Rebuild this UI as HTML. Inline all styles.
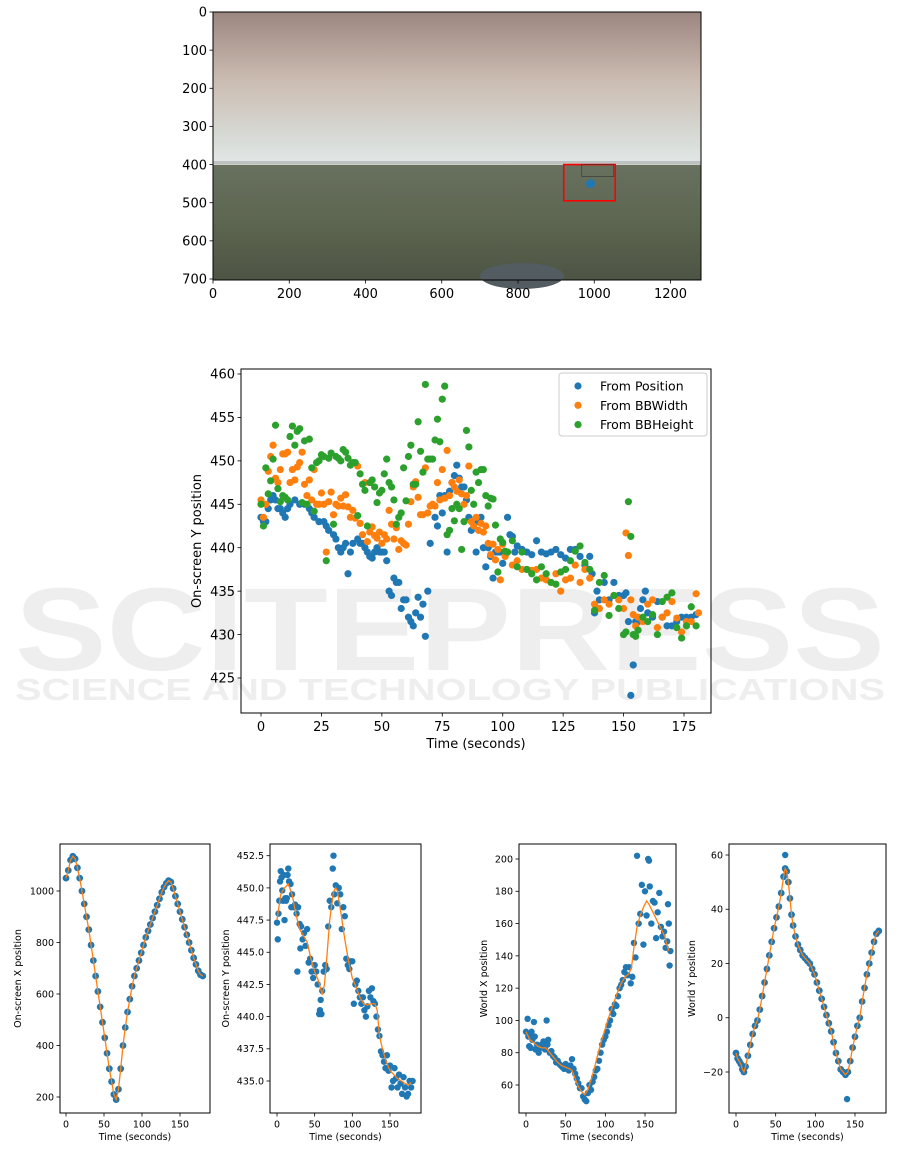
<!DOCTYPE html>
<html><head><meta charset="utf-8"><style>
html,body{margin:0;padding:0;background:#fff;}
svg{display:block;font-family:"DejaVu Sans","Liberation Sans",sans-serif;}
</style></head><body>
<svg id="fig" width="901" height="1151" viewBox="0 0 901 1151" xmlns="http://www.w3.org/2000/svg">
<defs>
<linearGradient id="sky" x1="0" y1="0" x2="0" y2="1">
<stop offset="0" stop-color="#9c8680"/><stop offset="0.45" stop-color="#cbbcb1"/><stop offset="0.85" stop-color="#d8dcd8"/><stop offset="1" stop-color="#e2e8e8"/></linearGradient>
<linearGradient id="ground" x1="0" y1="0" x2="0" y2="1">
<stop offset="0" stop-color="#68715f"/><stop offset="0.5" stop-color="#5d6650"/><stop offset="1" stop-color="#4d5444"/></linearGradient>
</defs>
<g fill="#e4e4e4" opacity="0.6">
<text x="15" y="670" font-size="118" font-weight="bold" textLength="870" lengthAdjust="spacingAndGlyphs" font-family="Liberation Sans, sans-serif">SCITEPRESS</text>
<text x="15" y="700" font-size="31" font-weight="bold" textLength="870" lengthAdjust="spacingAndGlyphs" font-family="Liberation Sans, sans-serif">SCIENCE AND TECHNOLOGY PUBLICATIONS</text>
</g>
<g>
<rect x="213" y="12" width="488" height="152" fill="url(#sky)"/>
<rect x="213" y="161" width="488" height="5" fill="#9a9e9a" opacity="0.5"/>
<rect x="213" y="165" width="488" height="115" fill="url(#ground)"/>
<ellipse cx="522" cy="276" rx="42" ry="13" fill="#535c60"/>
</g>
<g id="g-top"></g>
<g id="g-mid"></g>
<g id="g-b1"></g><g id="g-b2"></g><g id="g-b3"></g><g id="g-b4"></g>
</svg>
<script>
// ===== Middle chart data =====
const posT=[0,1,2,3,4,5,6,7,8,9,10,11,12,14,16,18,20,21,22,24,26,27,28,30,31,32,33,34,35,36,37,38,40,41,42,43,44,45,46,47,48,49,50,51,52,53,54,55,56,57,58,59,60,61,62,63,64,65,66,67,68,69,70,72,73,74,75,76,77,78,79,80,81,82,83,84,85,86,87,88,89,90,91,92,93,94,95,96,97,98,99,100,101,102,103,104,105,106,108,110,112,114,116,118,120,122,124,126,128,130,132,134,136,137,138,139,140,142,144,146,148,150,151,152,153,154,155,156,157,158,159,160,162,164,166,168,170,172,174,176,178,180];
const posY=[443.5,443,443,444.5,445.5,446,445.5,444.5,444.5,444,443.5,444.5,445,445.5,445,445,444.5,444,443.5,443,443,442.5,442,441.5,441,440,439.5,440,440.5,437,439.5,440.5,441,440.5,440.5,440,439.5,439,438.8,439.5,440,439.5,439.5,439.5,438.5,435,434.5,436.5,436,436,433,434,434,432,431.5,431,432.5,434.3,432,433.5,429.8,435,440.5,443.5,442.5,446,444,446,439.5,446.5,447.5,448.3,449.5,448,447,447,445.5,443.5,442,443,439.5,443,443.5,440,437.8,440,439,436.5,439.5,439.5,439.5,438.2,439.5,443.5,441.5,441.3,439.5,440.2,439.8,439.5,439.2,440.8,439.5,439.3,439.5,439.8,439.2,438.8,439.8,439.8,439,438,439,437,432.5,435,434,436,434,436,434.5,434.5,434.8,431.5,423,426.5,431.5,431.5,433,434,435,432.5,432,433.8,432,431,431,431.5,432,432,432,432.3];
const widT=[0,1,2,3,4,5,6,7,8,9,10,11,12,13,14,15,16,17,18,19,20,21,22,23,24,25,26,27,28,29,30,31,32,33,34,35,36,37,38,39,40,41,42,43,44,45,46,47,48,49,50,51,52,53,54,55,56,57,58,59,60,61,62,63,64,65,66,67,68,69,70,71,72,73,74,75,76,77,78,79,80,81,82,83,84,85,86,87,88,89,90,91,92,93,94,95,96,97,98,99,100,101,102,104,106,108,110,112,114,116,118,120,122,124,126,128,130,132,134,136,138,140,142,144,146,148,150,151,152,153,154,155,156,158,160,162,164,166,168,170,172,174,176,178,180,181];
const widY=[445.5,443.5,445,448.8,450.5,451.8,448,447.5,449,450.8,450.8,451,447.5,449,447.8,449.3,449.8,451,447.3,446,447.8,445.5,449,445,445,446.3,445,439.5,445.3,446.4,443.8,445,444.8,445.7,444.8,446.1,444.7,443.5,444.3,443.4,449.4,442.8,441.5,447.5,440.7,441.8,442.4,441.4,441.1,441.8,440.5,441.5,441,444.3,442.7,441,442.3,439.8,440.8,440.5,440.3,442.7,445.3,447,447.6,445.8,443.8,443.8,449.2,444,444.8,445,444.8,447.5,445.5,449,445.7,451.2,446,447.5,447,446.5,447.8,446.2,445,446,449.4,443,442.5,443.5,442,442.8,441.8,442.5,440.5,439.2,440.4,438.6,439.8,436.3,440.4,439,439.5,438,438.5,437.5,437.5,437.4,437.5,436.5,436.3,436,437,435,436.3,436.5,438,436,437.5,436.5,433.5,433,434,433.5,434.5,434,433,441.7,439.1,434,432.3,431,432,431.5,433.5,434,430.8,432,432.5,433.8,431.9,430.3,431.5,431.5,434.7,432.5];
const hgtT=[0,1,2,3,4,5,6,7,8,9,10,11,12,13,14,15,16,17,18,19,20,21,22,23,24,25,26,27,28,29,30,31,32,33,34,35,36,37,38,39,40,41,42,43,44,45,46,47,48,49,50,51,52,53,54,55,56,57,58,59,60,61,62,63,64,65,66,67,68,69,70,71,72,73,74,75,76,77,78,79,80,81,82,83,84,85,86,87,88,89,90,91,92,93,94,95,96,97,98,99,100,101,102,104,106,108,110,112,114,116,118,120,122,124,126,128,130,132,134,136,138,140,142,144,146,148,150,151,152,153,154,155,156,158,160,162,164,166,168,170,172,174,176,178,180];
const hgtY=[445,442.5,449.2,446.2,447.7,450.2,454.1,446.8,445.3,446,445.8,445.5,452.8,454,451.8,453.4,453.7,445.2,452.3,445,452.5,449.2,444.2,449.8,450,450.7,450.5,438.5,450.3,450.9,442.7,450.5,450.3,450,451.3,451,450.3,449.5,449.8,449.8,443.7,448.5,447.3,446.6,442.5,447.5,447.8,447,445.2,446.3,446.6,448.5,450.2,447.5,447,445.5,442.7,443.5,444,449.2,445.4,450.5,451.8,447.3,447.3,454.5,451.1,448.7,458.8,450.2,450.2,450.2,452.4,454.8,452.2,457.1,458.6,441.5,442,444.5,443.1,445,444.5,439.8,443,453.5,451.6,446.6,445,448.7,447.5,449,449,446,444.8,445.7,445.6,442.6,437.2,441,440.6,439.6,439.5,440.8,437.8,439.5,437.5,437,436.3,437.8,437,436,435.8,437.2,437.5,438.5,439.6,440.2,438.3,437.5,432.8,436,436.8,432.2,434.5,433,430,430.3,445.3,441.3,430,429.8,430.5,432,431.5,432.3,430,433.8,434.3,434.8,430.8,429.6,431,433.2,431];
const midXTicks=[0,25,50,75,100,125,150,175];
const midYTicks=[425,430,435,440,445,450,455,460];
const midLegend=["From Position","From BBWidth","From BBHeight"];
const midColors=["#1f77b4","#ff7f0e","#2ca02c"];

// ===== Top image axis ticks =====
const topXTicks=[0,200,400,600,800,1000,1200];
const topYTicks=[0,100,200,300,400,500,600,700];
const bbox=[920,400,1055,495];
const detPoint=[990,450];

// ===== Bottom chart 1: on-screen X =====
const b1T=[0,3,6,9,12,15,18,21,24,27,30,33,36,39,42,45,48,51,54,57,60,63,66,69,72,75,78,81,84,87,90,93,96,99,102,105,108,111,114,117,120,123,126,129,132,135,138,141,144,147,150,153,156,159,162,165,168,171,174,177,180];
const b1V=[1050,1080,1120,1135,1125,1090,1050,1000,950,900,850,790,730,670,610,550,490,430,370,310,260,210,190,230,310,400,470,530,580,630,670,700,730,760,790,820,845,870,895,920,945,970,995,1015,1030,1040,1035,1010,980,950,920,890,860,830,800,770,740,715,690,675,670];
const b1YTicks=[200,400,600,800,1000];
// ===== Bottom chart 2 =====
const b2T=[0,1,2,3,4,5,6,7,8,9,10,11,12,13,14,15,16,18,19,20,22,24,26,27,28,30,31,32,34,36,38,40,42,44,46,48,50,52,54,56,57,58,59,60,62,64,66,68,70,72,74,75,76,78,80,82,84,86,88,90,92,94,96,98,100,102,104,106,108,110,112,114,116,118,120,122,124,126,128,130,132,134,136,138,140,142,144,146,148,150,152,154,156,158,160,162,164,166,168,170,172,174,176,178,180];
const b2V=[447.3,446,448,449,450.5,451.3,450.8,449.8,449,451,447.5,449.2,449,449.2,451,451.5,450.5,450.3,448.5,449.5,448.5,448.7,448,443.5,448.5,447.2,445.3,447,446,446.5,445.5,446.8,444.2,444.5,443.5,443,444,443.5,442.5,440.2,440.5,441.3,440.2,442,443.5,444,443.7,447,449,448.5,451.5,452.5,449.5,450.2,448.8,450,449.5,446.8,448.5,447.8,444.5,444,443.7,444.3,444.3,441,442.5,442.8,442,441.5,441,441.5,440.5,440,440.8,442,441.5,442.2,441.2,441,440,439,438.5,437.3,437,436.5,436,437,435.8,436.2,434.5,435,436,435.2,434.5,435.5,434.8,434,435.3,434.5,433.8,434,435,434.5,435];
const b2FitT=[0,5,10,15,20,25,30,35,40,45,50,55,60,63,66,70,75,78,80,85,90,95,100,105,110,115,120,125,130,133,136,140,145,150,155,160,165,170,175,178];
const b2FitV=[447.5,449.5,450,450.3,449.5,448,446.8,446.3,445.8,444.5,443.5,442.8,441.7,442.5,444.5,447.5,449.7,450,449.8,448,446,444.3,443,442.3,441.5,441,440.9,441,441,440.5,438.5,437.5,436.5,435.8,435.5,435.2,435,434.8,434.7,434.9];
const b2YTicks=[435,437.5,440,442.5,445,447.5,450,452.5];
const b2YLabels=["435.0","437.5","440.0","442.5","445.0","447.5","450.0","452.5"];
// ===== Bottom chart 3 =====
const b3T=[0,2,3,4,5,6,7,8,10,11,12,14,16,18,20,22,24,26,27,28,30,32,34,36,38,40,42,44,46,48,50,52,54,56,58,60,62,64,66,68,70,72,74,76,78,80,82,84,86,88,90,92,94,96,98,100,102,104,106,108,110,112,114,116,118,120,122,124,126,128,130,132,134,136,138,140,142,144,146,148,150,152,154,155,156,158,160,162,164,166,168,170,172,174,176,178,179,180,181,182];
const b3V=[93,101,90,84,91,83,93,88,99,90,82,85,80,83,85,87,82,100,85,88,80,81,78,77,74,75,73,72,71,70,73,70,69,72,76,70,67,64,61,58,58,53,51,50,55,60,57,62,65,69,70,75,80,85,88,90,93,97,100,107,104,110,109,115,120,122,125,130,133,128,133,123,127,148,139,202,160,166,184,147,180,165,200,199,183,160,174,173,151,167,179,158,152,155,145,149,172,160,134,143];
const b3FitT=[0,5,10,15,20,25,30,35,40,45,50,55,58,62,66,70,74,78,82,86,90,95,100,105,110,115,120,125,130,133,136,140,144,148,152,155,160,165,170,175,178,180];
const b3FitV=[93,88,86,84,83,83,80,77,74,72,71,70,69,64,59,56,54,57,63,70,78,87,95,103,110,117,123,127,129,133,145,158,165,170,174,172,167,162,157,152,146,143];
const b3YTicks=[60,80,100,120,140,160,180,200];
// ===== Bottom chart 4 =====
const b4T=[0,2,4,6,8,10,12,15,18,21,24,27,30,33,36,39,42,45,48,51,54,57,60,62,64,66,68,70,72,75,78,81,84,87,90,93,96,99,102,105,108,111,114,117,120,123,126,129,132,135,138,141,144,147,150,153,156,159,162,165,168,171,174,177,180];
const b4V=[-13,-15,-16,-17,-19,-20,-18,-14,-10,-6,-3,-1,3,8,13,18,23,28,33,37,41,46,52,55,54,50,44,38,34,30,27,25,23,22,21,20,18,16,13,10,7,4,1,-2,-5,-9,-13,-16,-19,-20,-21,-20,-16,-11,-7,-3,0,6,11,16,20,24,28,31,32];
const b4OutT=[62,140];
const b4OutV=[60,-30];
const b4YTicks=[-20,0,20,40,60];
const b4YLabels=["\u221220","0","20","40","60"];
const bXTicks=[0,50,100,150];

const NS="http://www.w3.org/2000/svg";
function mk(parent,tag,attrs){const e=document.createElementNS(NS,tag);for(const k in attrs)e.setAttribute(k,attrs[k]);parent.appendChild(e);return e;}
function lin(d0,d1,p0,p1){return v=>p0+(v-d0)*(p1-p0)/(d1-d0);}

function axes(g,f,xs,ys,xt,yt,xl,yl,fs,yLabels){
  const fr=mk(g,'rect',{x:f.x0,y:f.y0,width:f.x1-f.x0,height:f.y1-f.y0,fill:'none',stroke:'#000','stroke-width':1});
  
  
  xt.forEach(v=>{const x=xs(v);
    mk(g,'line',{x1:x,x2:x,y1:f.y1,y2:f.y1+3.5,stroke:'#000','stroke-width':0.8});
    const t=mk(g,'text',{x:x,y:f.y1+5+fs,'font-size':fs,'text-anchor':'middle'});t.textContent=v;
    
    });
  yt.forEach((v,i)=>{const y=ys(v);
    mk(g,'line',{x1:f.x0-3.5,x2:f.x0,y1:y,y2:y,stroke:'#000','stroke-width':0.8});
    const t=mk(g,'text',{x:f.x0-6,y:y+fs*0.36,'font-size':fs,'text-anchor':'end'});t.textContent=yLabels?yLabels[i]:v;
    
    });
  if(xl){const t=mk(g,'text',{x:(f.x0+f.x1)/2,y:xl.y,'font-size':xl.fs,'text-anchor':'middle'});t.textContent=xl.t;
    
    }
  if(yl){const t=mk(g,'text',{x:yl.x,y:(f.y0+f.y1)/2,'font-size':yl.fs,'text-anchor':'middle',transform:`rotate(-90 ${yl.x} ${(f.y0+f.y1)/2})`});t.textContent=yl.t;
    
    }
}
function dots(g,T,V,xs,ys,r,c,name){T.forEach((t,i)=>{const d=mk(g,'circle',{cx:xs(t),cy:ys(V[i]),r:r,fill:c});
  
  });}
function line(g,T,V,xs,ys,c,name){const p=mk(g,'polyline',{points:T.map((t,i)=>xs(t)+','+ys(V[i])).join(' '),fill:'none',stroke:c,'stroke-width':1.3});
  
  }

(function(){const g=document.getElementById('g-top');
 const f={x0:213,x1:701,y0:12,y1:280};
 const xs=lin(0,1280,213,701), ys=lin(0,700,12,279);
 const r=mk(g,'rect',{x:xs(bbox[0]),y:ys(bbox[1]),width:xs(bbox[2])-xs(bbox[0]),height:ys(bbox[3])-ys(bbox[1]),fill:'none',stroke:'#ff0000','stroke-width':1.6});
 
 
 mk(g,'rect',{x:xs(bbox[0])+18,y:ys(bbox[1]),width:32,height:12,fill:'none',stroke:'#333','stroke-width':0.6});
 const c=mk(g,'circle',{cx:xs(detPoint[0]),cy:ys(detPoint[1]),r:4.5,fill:'#1f77b4'});
 
 
 axes(g,f,xs,ys,topXTicks,topYTicks,null,null,13);
})();

(function(){const g=document.getElementById('g-mid');
 const f={x0:241,x1:711,y0:369,y1:713};
 const xs=lin(0,175,261,684), ys=lin(460,425,374,678);
 dots(g,posT,posY,xs,ys,3.6,midColors[0],'point-from-position');
 dots(g,widT,widY,xs,ys,3.6,midColors[1],'point-from-bbwidth');
 dots(g,hgtT,hgtY,xs,ys,3.6,midColors[2],'point-from-bbheight');
 axes(g,f,xs,ys,midXTicks,midYTicks,{t:'Time (seconds)',y:748,fs:13},{t:'On-screen Y position',x:201,fs:13},13);
 const lg=mk(g,'g',{});
 mk(lg,'rect',{x:559,y:373,width:148,height:63,rx:3,fill:'#fff','fill-opacity':0.8,stroke:'#ccc'});
 midLegend.forEach((s,i)=>{const y=386+i*19.3;
   const c=mk(lg,'circle',{cx:578,cy:y,r:3.6,fill:midColors[i]});
   
   
   const t=mk(lg,'text',{x:600,y:y+4.5,'font-size':12.5});t.textContent=s;
   
   });
})();

const BY0=844,BY1=1113;
(function(){const g=document.getElementById('g-b1');
 const f={x0:60,x1:210,y0:BY0,y1:BY1};
 const xs=lin(0,150,66,180), ys=lin(1000,200,891,1097);
 dots(g,b1T,b1V,xs,ys,3.4,'#1f77b4','point-screen-x');
 line(g,b1T,b1V,xs,ys,'#ff7f0e','fit-screen-x');
 axes(g,f,xs,ys,bXTicks,b1YTicks,{t:'Time (seconds)',y:1140,fs:9.5},{t:'On-screen X position',x:21,fs:9.5},9.5);
})();
(function(){const g=document.getElementById('g-b2');
 const f={x0:270,x1:421,y0:BY0,y1:BY1};
 const xs=lin(0,150,277,390), ys=lin(452.5,435,855.7,1081);
 dots(g,b2T,b2V,xs,ys,3.2,'#1f77b4','point-screen-y');
 line(g,b2FitT,b2FitV,xs,ys,'#ff7f0e','fit-screen-y');
 axes(g,f,xs,ys,bXTicks,b2YTicks,{t:'Time (seconds)',y:1140,fs:9.5},{t:'On-screen Y position',x:229,fs:9.5},9.5,b2YLabels);
})();
(function(){const g=document.getElementById('g-b3');
 const f={x0:519,x1:676,y0:BY0,y1:BY1};
 const xs=lin(0,150,526,645), ys=lin(200,60,859,1085);
 dots(g,b3T,b3V,xs,ys,3.2,'#1f77b4','point-world-x');
 line(g,b3FitT,b3FitV,xs,ys,'#ff7f0e','fit-world-x');
 axes(g,f,xs,ys,bXTicks,b3YTicks,{t:'Time (seconds)',y:1140,fs:9.5},{t:'World X position',x:487,fs:9.5},9.5);
})();
(function(){const g=document.getElementById('g-b4');
 const f={x0:729,x1:886,y0:BY0,y1:BY1};
 const xs=lin(0,150,736,855), ys=lin(60,-20,855,1072);
 dots(g,b4T,b4V,xs,ys,3.4,'#1f77b4','point-world-y');
 dots(g,b4OutT,b4OutV,xs,ys,3.2,'#1f77b4','point-world-y-outlier');
 line(g,b4T,b4V,xs,ys,'#ff7f0e','fit-world-y');
 axes(g,f,xs,ys,bXTicks,b4YTicks,{t:'Time (seconds)',y:1140,fs:9.5},{t:'World Y position',x:695,fs:9.5},9.5,b4YLabels);
})();
</script>
</body></html>
